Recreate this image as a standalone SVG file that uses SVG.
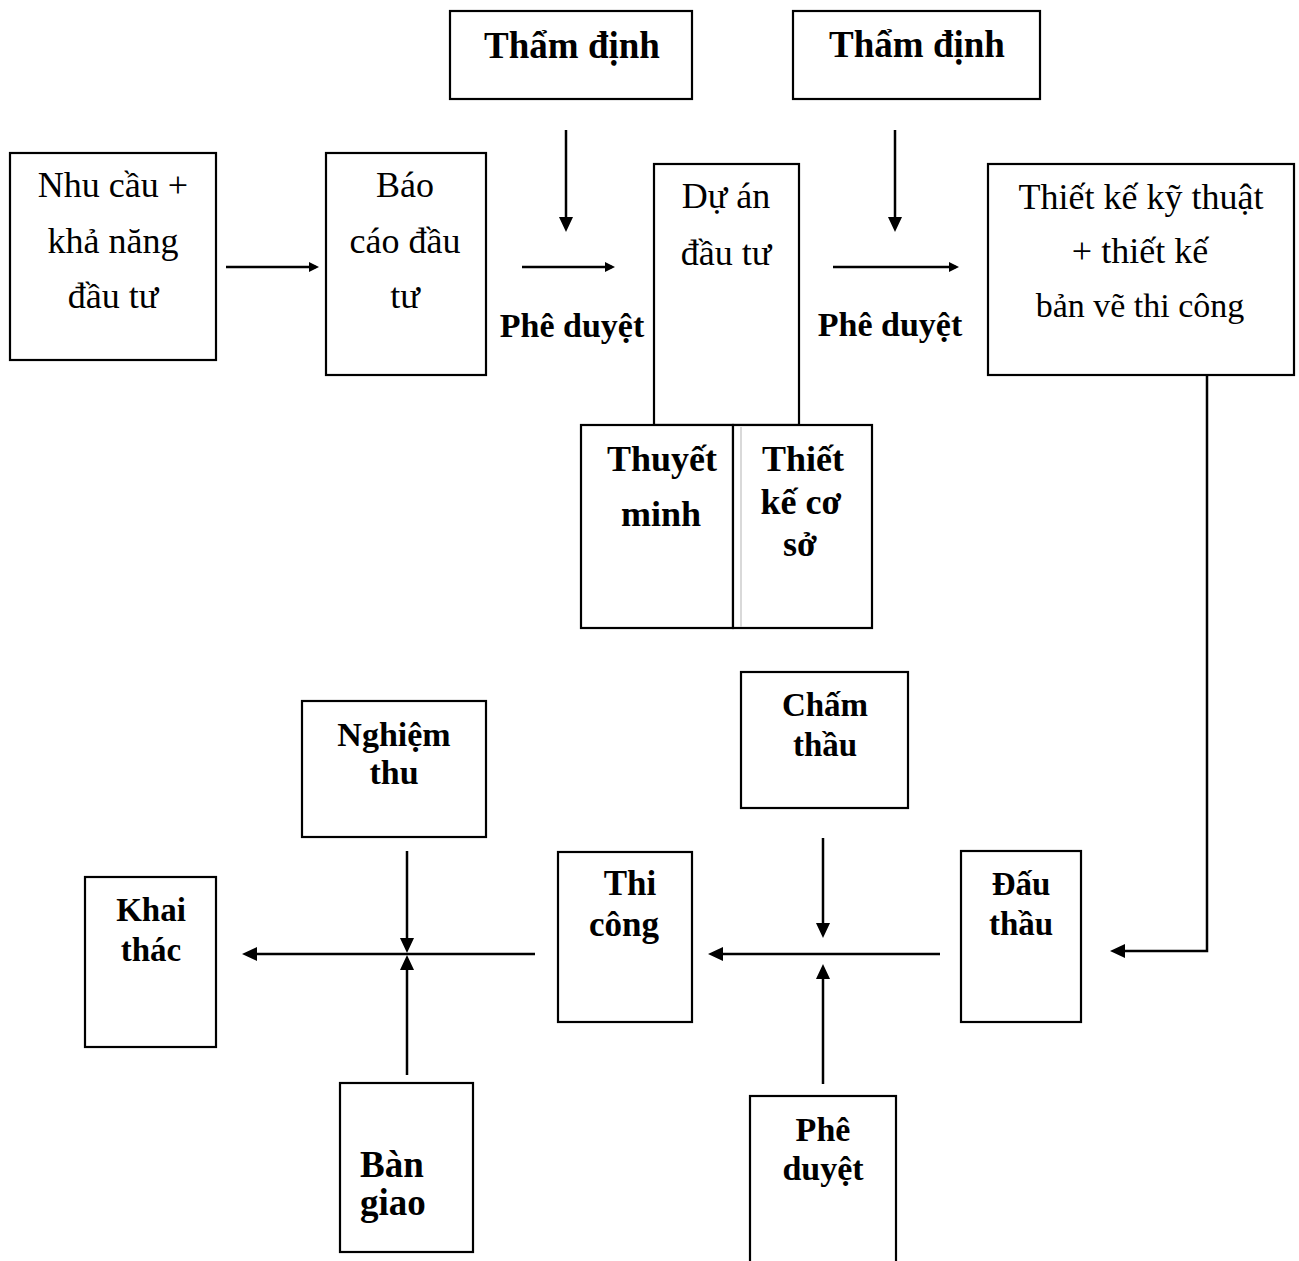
<svg xmlns="http://www.w3.org/2000/svg" width="1299" height="1261" viewBox="0 0 1299 1261">
<style>
.box{fill:#fff;stroke:#000;stroke-width:2.2}
.t{font-family:"Liberation Serif","Times New Roman",serif;fill:#000;text-anchor:middle}
.r{font-weight:normal;font-size:36px}
.b{font-weight:bold}
.ln{fill:none;stroke:#000;stroke-width:2.5}
</style>
<defs>
<marker id="ah" viewBox="0 0 15 14" refX="11" refY="7" markerWidth="15" markerHeight="14" markerUnits="userSpaceOnUse" orient="auto">
<path d="M0,0 L15,7 L0,14 z" fill="#000"/>
</marker>
<marker id="as" viewBox="0 0 10 10" refX="7" refY="5" markerWidth="10" markerHeight="10" markerUnits="userSpaceOnUse" orient="auto">
<path d="M0,0 L10,5 L0,10 z" fill="#000"/>
</marker>
</defs>
<rect width="1299" height="1261" fill="#fff"/>

<g id="tham-dinh-1">
<rect class="box" x="450" y="11" width="242" height="88"/>
<text class="t b" x="572" y="58" font-size="37">Thẩm định</text>
</g>
<g id="tham-dinh-2">
<rect class="box" x="793" y="11" width="247" height="88"/>
<text class="t b" x="917" y="57" font-size="37">Thẩm định</text>
</g>
<g id="nhu-cau">
<rect class="box" x="10" y="153" width="206" height="207"/>
<text class="t r" x="113" y="197">Nhu cầu +</text>
<text class="t r" x="113" y="253">khả năng</text>
<text class="t r" x="113" y="308">đầu tư</text>
</g>
<g id="bao-cao">
<rect class="box" x="326" y="153" width="160" height="222"/>
<text class="t r" x="405" y="197">Báo</text>
<text class="t r" x="405" y="253">cáo đầu</text>
<text class="t r" x="405" y="308">tư</text>
</g>
<g id="du-an">
<rect class="box" x="654" y="164" width="145" height="261"/>
<text class="t r" x="726" y="208">Dự án</text>
<text class="t r" x="726" y="265">đầu tư</text>
</g>
<g id="thuyet-minh">
<rect class="box" x="581" y="425" width="152" height="203"/>
<text class="t b" x="662" y="471" font-size="36">Thuyết</text>
<text class="t b" x="661" y="526" font-size="36">minh</text>
</g>
<g id="thiet-ke-co-so">
<rect class="box" x="733" y="425" width="139" height="203"/>
<line x1="741" y1="427" x2="741" y2="627" stroke="#ccc" stroke-width="1.5"/>
<text class="t b" x="803" y="471" font-size="36">Thiết</text>
<text class="t b" x="801" y="514" font-size="36">kế cơ</text>
<text class="t b" x="800" y="556" font-size="36">sở</text>
</g>
<g id="thiet-ke-ky-thuat">
<rect class="box" x="988" y="164" width="306" height="211"/>
<text class="t r" x="1141" y="209">Thiết kế kỹ thuật</text>
<text class="t r" x="1140" y="263">+ thiết kế</text>
<text class="t" x="1140" y="317" font-size="34">bản vẽ thi công</text>
</g>
<g id="cham-thau">
<rect class="box" x="741" y="672" width="167" height="136"/>
<text class="t b" x="825" y="716" font-size="33">Chấm</text>
<text class="t b" x="825" y="756" font-size="33">thầu</text>
</g>
<g id="dau-thau">
<rect class="box" x="961" y="851" width="120" height="171"/>
<text class="t b" x="1021" y="895" font-size="33">Đấu</text>
<text class="t b" x="1021" y="935" font-size="33">thầu</text>
</g>
<g id="phe-duyet-3">
<rect class="box" x="750" y="1096" width="146" height="185"/>
<text class="t b" x="823" y="1141" font-size="34">Phê</text>
<text class="t b" x="823" y="1180" font-size="34">duyệt</text>
</g>
<g id="thi-cong">
<rect class="box" x="558" y="852" width="134" height="170"/>
<text class="t b" x="630" y="895" font-size="35">Thi</text>
<text class="t b" x="624" y="936" font-size="35">công</text>
</g>
<g id="nghiem-thu">
<rect class="box" x="302" y="701" width="184" height="136"/>
<text class="t b" x="394" y="746" font-size="34">Nghiệm</text>
<text class="t b" x="394" y="784" font-size="34">thu</text>
</g>
<g id="khai-thac">
<rect class="box" x="85" y="877" width="131" height="170"/>
<text class="t b" x="151" y="921" font-size="33">Khai</text>
<text class="t b" x="151" y="961" font-size="33">thác</text>
</g>
<g id="ban-giao">
<rect class="box" x="340" y="1083" width="133" height="169"/>
<text class="t b" x="360" y="1177" font-size="37" style="text-anchor:start">Bàn</text>
<text class="t b" x="360" y="1215" font-size="37" style="text-anchor:start">giao</text>
</g>

<g id="connectors">
<line class="ln" x1="226" y1="267" x2="316" y2="267" marker-end="url(#as)"/>
<line class="ln" x1="522" y1="267" x2="612" y2="267" marker-end="url(#as)"/>
<line class="ln" x1="833" y1="267" x2="956" y2="267" marker-end="url(#as)"/>
<line class="ln" x1="566" y1="130" x2="566" y2="228" marker-end="url(#ah)"/>
<line class="ln" x1="895" y1="130" x2="895" y2="228" marker-end="url(#ah)"/>
<text class="t b" x="572" y="337" font-size="34">Phê duyệt</text>
<text class="t b" x="890" y="336" font-size="34">Phê duyệt</text>
<path class="ln" d="M1207,375 V951 H1114" marker-end="url(#ah)"/>
<line class="ln" x1="940" y1="954" x2="712" y2="954" marker-end="url(#ah)"/>
<line class="ln" x1="823" y1="838" x2="823" y2="934" marker-end="url(#ah)"/>
<line class="ln" x1="823" y1="1084" x2="823" y2="968" marker-end="url(#ah)"/>
<line class="ln" x1="535" y1="954" x2="246" y2="954" marker-end="url(#ah)"/>
<line class="ln" x1="407" y1="851" x2="407" y2="949" marker-end="url(#ah)"/>
<line class="ln" x1="407" y1="1075" x2="407" y2="959" marker-end="url(#ah)"/>
</g>
</svg>
